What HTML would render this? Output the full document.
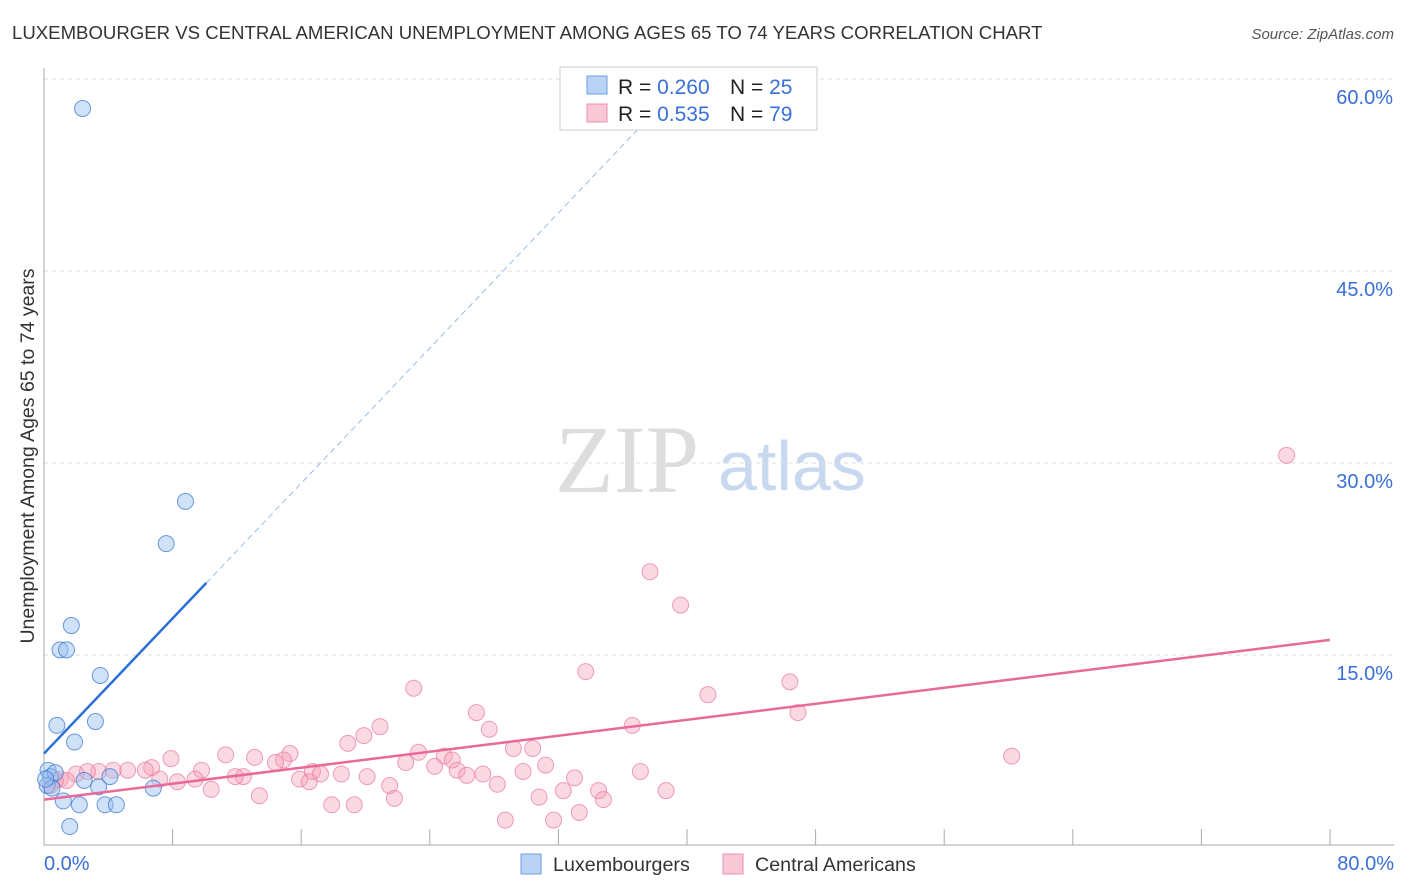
<!DOCTYPE html>
<html><head><meta charset="utf-8"><style>
body{margin:0;background:#fff;font-family:"Liberation Sans",sans-serif}
svg{display:block}
</style></head><body>
<svg id="c" width="1406" height="892">
<text x="12" y="39" font-size="18.6" fill="#333">LUXEMBOURGER VS CENTRAL AMERICAN UNEMPLOYMENT AMONG AGES 65 TO 74 YEARS CORRELATION CHART</text>
<text x="1394" y="39" font-size="15" fill="#555" font-style="italic" text-anchor="end">Source: ZipAtlas.com</text>
<text x="34" y="456" font-size="19.5" fill="#333" text-anchor="middle" transform="rotate(-90 34 456)">Unemployment Among Ages 65 to 74 years</text>
<text x="555" y="492" font-size="96" fill="#ddd" font-family="Liberation Serif,serif">ZIP</text>
<text x="718" y="490" font-size="70" fill="#c8d8ef">atlas</text>
<g id="grid"></g><g id="pts"></g><g id="lines"></g>
<g>
<rect x="560" y="67" width="257" height="63" fill="#fff" stroke="#ccc"/>
<rect x="587" y="76" width="20" height="18" fill="#b9d3f5" stroke="#6d9fe0"/>
<rect x="587" y="104" width="20" height="18" fill="#f9c8d6" stroke="#ec8fac"/>
<text x="618" y="94" font-size="21" fill="#222">R = <tspan fill="#3a6fd8">0.260</tspan></text>
<text x="730" y="94" font-size="21" fill="#222">N = <tspan fill="#3a6fd8">25</tspan></text>
<text x="618" y="121" font-size="21" fill="#222">R = <tspan fill="#3a6fd8">0.535</tspan></text>
<text x="730" y="121" font-size="21" fill="#222">N = <tspan fill="#3a6fd8">79</tspan></text>
</g>
<g>
<rect x="521" y="854" width="20" height="20" fill="#b9d3f5" stroke="#6d9fe0"/>
<text x="553" y="871" font-size="19.7" fill="#333">Luxembourgers</text>
<rect x="723" y="854" width="20" height="20" fill="#f9c8d6" stroke="#ec8fac"/>
<text x="755" y="871" font-size="19.7" fill="#333">Central Americans</text>
</g>
</svg>
<script>
const yTicks=[15,30,45,60];
const xTickLabels=["0.0%","80.0%"];
const blueX=[2.4,8.8,7.6,1.7,1.0,1.4,3.5,0.8,3.2,1.9,0.25,0.4,0.7,0.2,0.5,2.5,4.1,3.4,6.8,1.2,2.2,3.8,4.5,1.6,0.1];
const blueY=[57.7,27.0,23.7,17.3,15.4,15.4,13.4,9.5,9.8,8.2,6.0,5.5,5.8,4.8,4.6,5.2,5.5,4.7,4.6,3.6,3.3,3.3,3.3,1.6,5.3];
const pinkX=[77.3,37.7,39.6,33.7,46.4,41.3,23.0,26.9,46.9,36.6,20.9,27.7,19.9,18.9,29.2,30.4,23.3,15.3,11.3,13.1,60.2,24.9,25.4,7.9,14.9,14.4,22.5,31.2,24.3,25.7,37.1,29.8,6.7,9.8,6.3,5.2,4.3,3.4,2.7,2.0,16.7,17.2,18.5,20.1,12.4,11.9,26.3,27.3,33.0,15.9,9.4,7.2,1.0,1.4,16.5,8.3,28.2,21.5,32.3,34.5,38.7,10.4,13.4,21.8,30.8,34.8,17.9,19.3,33.3,28.7,31.7,0.4,0.7];
const pinkY=[30.6,21.5,18.9,13.7,12.9,11.9,12.4,10.5,10.5,9.5,9.4,9.2,8.7,8.1,7.7,7.7,7.4,7.3,7.2,7.0,7.1,7.1,6.8,6.9,6.8,6.6,6.6,6.4,6.3,6.0,5.9,5.9,6.2,6.0,6.0,6.0,6.0,5.9,5.9,5.7,5.9,5.7,5.7,5.5,5.5,5.5,5.6,5.7,5.4,5.3,5.3,5.3,5.3,5.2,5.1,5.1,4.9,4.8,4.4,4.4,4.4,4.5,4.0,3.8,3.9,3.7,3.3,3.3,2.7,2.1,2.1,4.8,5.2];
const blueTrend=[7.3,1.32];
const pinkTrend=[3.7,0.156];
const X=v=>44+v/80*1286, Y=v=>847-v*12.8;
const NS="http://www.w3.org/2000/svg";
function mk(t,a,p){const e=document.createElementNS(NS,t);for(const k in a)e.setAttribute(k,a[k]);document.getElementById(p).appendChild(e);return e;}
for(const t of yTicks){
 const l=mk('line',{x1:44,x2:1394,y1:Y(t),y2:Y(t),stroke:'#ddd','stroke-dasharray':'4,4'},'grid');
 
 
 const tx=mk('text',{x:1393,y:Y(t)+25,'font-size':20,fill:'#3a6fd8','text-anchor':'end'},'grid');
 tx.textContent=t.toFixed(1)+'%';
 
 
}
const ax=mk('path',{d:'M44 68V845H1394',fill:'none',stroke:'#aaa'},'grid');


for(let i=1;i<=10;i++){const tk=mk('line',{x1:X(i*8),x2:X(i*8),y1:829,y2:845,stroke:'#aaa'},'grid');
 
 }
const xl0=mk('text',{x:44,y:870,'font-size':20,fill:'#3a6fd8'},'grid');xl0.textContent=xTickLabels[0];


const xl1=mk('text',{x:1394,y:870,'font-size':20,fill:'#3a6fd8','text-anchor':'end'},'grid');xl1.textContent=xTickLabels[1];


pinkX.forEach((x,i)=>{const c=mk('circle',{cx:X(x),cy:Y(pinkY[i]),r:8,fill:'rgba(244,160,186,0.4)',stroke:'rgba(232,120,155,0.7)'},'pts');
 
 });
blueX.forEach((x,i)=>{const c=mk('circle',{cx:X(x),cy:Y(blueY[i]),r:8,fill:'rgba(150,190,240,0.45)',stroke:'rgba(60,120,210,0.75)'},'pts');
 
 });
const bEnd=10.1, bDash=37.5;
const bl=mk('line',{x1:X(0),y1:Y(blueTrend[0]),x2:X(bEnd),y2:Y(blueTrend[0]+blueTrend[1]*bEnd),stroke:'#2a6fd6','stroke-width':2.5},'lines');


const bd=mk('line',{x1:X(bEnd),y1:Y(blueTrend[0]+blueTrend[1]*bEnd),x2:X(bDash),y2:Y(blueTrend[0]+blueTrend[1]*bDash),stroke:'#9bbbe8','stroke-width':1,'stroke-dasharray':'6,4'},'lines');


const pl=mk('line',{x1:X(0),y1:Y(pinkTrend[0]),x2:X(80),y2:Y(pinkTrend[0]+pinkTrend[1]*80),stroke:'#e8699a','stroke-width':2.5},'lines');


</script>
</body></html>
